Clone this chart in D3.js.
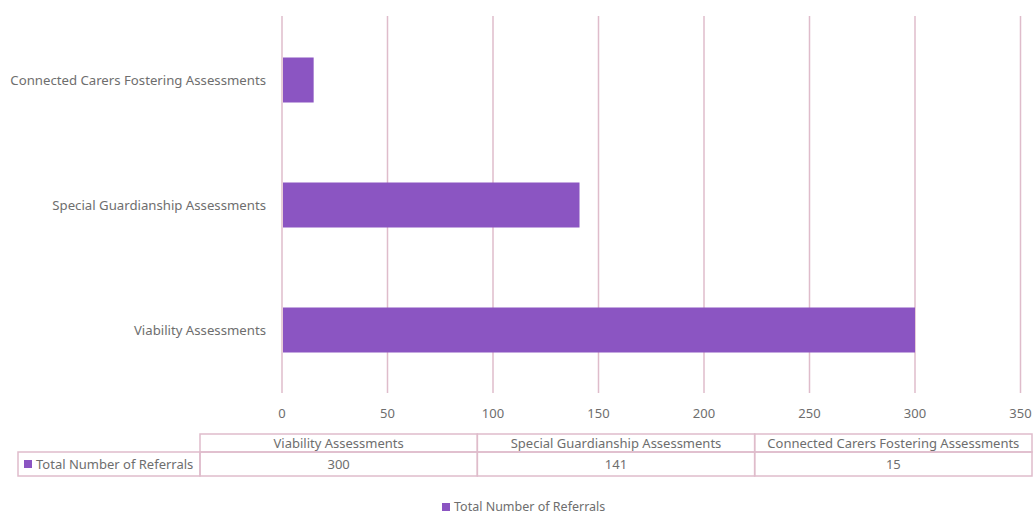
<!DOCTYPE html>
<html>
<head>
<meta charset="utf-8">
<script src="https://cdn.jsdelivr.net/npm/d3@7"></script>
<style>
  body { margin: 0; background: #fff; }
  text { font-family: 'Noto Sans', sans-serif; fill: #6e6e6e; }
</style>
</head>
<body>
<div id="chart"></div>
<script>
// data
const categories = ['Viability Assessments', 'Special Guardianship Assessments', 'Connected Carers Fostering Assessments']
const seriesName = 'Total Number of Referrals'
const values = [300, 141, 15]
const xTicks = [0, 50, 100, 150, 200, 250, 300, 350]

const width = 1033
const height = 515
const barColor = '#8b55c2'
const gridColor = '#dfbccb'

const svg = d3.select('#chart')
  .append('svg')
  .attr('width', width)
  .attr('height', height)

const x = d3.scaleLinear().domain([0, 350]).range([282, 1020.5])
// top category is drawn last in the list (Excel style)
const y = d3.scaleBand()
  .domain(categories.slice().reverse())
  .range([17.5, 392.5])
  .paddingInner(0.64)
  .paddingOuter(0.32)

// gridlines
svg.append('g')
  .selectAll('line')
  .data(xTicks)
  .join('line')
  .attr('x1', d => x(d))
  .attr('x2', d => x(d))
  .attr('y1', 16)
  .attr('y2', 393)
  .attr('stroke', gridColor)
  .attr('stroke-width', 1.5)

// bars
svg.append('g')
  .selectAll('rect')
  .data(categories)
  .join('rect')
  .attr('x', x(0) + 1)
  .attr('y', d => y(d))
  .attr('width', (d, i) => x(values[i]) - x(0) - 1)
  .attr('height', y.bandwidth())
  .attr('fill', barColor)

// category labels
svg.append('g')
  .selectAll('text')
  .data(categories)
  .join('text')
  .attr('x', 266)
  .attr('y', d => y(d) + y.bandwidth() / 2)
  .attr('dy', '0.35em')
  .attr('text-anchor', 'end')
  .attr('font-size', 13.2)
  .text(d => d)

// x tick labels
svg.append('g')
  .selectAll('text')
  .data(xTicks)
  .join('text')
  .attr('x', d => x(d))
  .attr('y', 418)
  .attr('text-anchor', 'middle')
  .attr('font-size', 13)
  .text(d => d)

// data table
const colX = d3.scaleBand().domain(categories).range([200, 1032])
const tableTop = 434
const rowH = 18
const row2H = 24

const table = svg.append('g')
table.selectAll('rect.head')
  .data(categories)
  .join('rect')
  .attr('class', 'head')
  .attr('x', d => colX(d))
  .attr('y', tableTop)
  .attr('width', colX.bandwidth())
  .attr('height', rowH)
  .attr('fill', 'none')
  .attr('stroke', gridColor)
  .attr('stroke-width', 1.5)

table.selectAll('text.head')
  .data(categories)
  .join('text')
  .attr('class', 'head')
  .attr('x', d => colX(d) + colX.bandwidth() / 2)
  .attr('y', tableTop + rowH / 2 + 0.5)
  .attr('dy', '0.35em')
  .attr('text-anchor', 'middle')
  .attr('font-size', 13)
  .text(d => d)

table.append('rect')
  .attr('x', 18)
  .attr('y', tableTop + rowH)
  .attr('width', 182)
  .attr('height', row2H)
  .attr('fill', 'none')
  .attr('stroke', gridColor)
  .attr('stroke-width', 1.5)

table.selectAll('rect.val')
  .data(categories)
  .join('rect')
  .attr('class', 'val')
  .attr('x', d => colX(d))
  .attr('y', tableTop + rowH)
  .attr('width', colX.bandwidth())
  .attr('height', row2H)
  .attr('fill', 'none')
  .attr('stroke', gridColor)
  .attr('stroke-width', 1.5)

table.selectAll('text.val')
  .data(categories)
  .join('text')
  .attr('class', 'val')
  .attr('x', d => colX(d) + colX.bandwidth() / 2)
  .attr('y', tableTop + rowH + row2H / 2)
  .attr('dy', '0.35em')
  .attr('text-anchor', 'middle')
  .attr('font-size', 13)
  .text((d, i) => values[i])

table.append('rect')
  .attr('x', 24)
  .attr('y', tableTop + rowH + row2H / 2 - 4)
  .attr('width', 8)
  .attr('height', 8)
  .attr('fill', barColor)

table.append('text')
  .attr('x', 36)
  .attr('y', tableTop + rowH + row2H / 2)
  .attr('dy', '0.35em')
  .attr('font-size', 13)
  .text(seriesName)

// legend
const legend = svg.append('g')
legend.append('rect')
  .attr('x', 442)
  .attr('y', 503)
  .attr('width', 8)
  .attr('height', 8)
  .attr('fill', barColor)
legend.append('text')
  .attr('x', 454)
  .attr('y', 507)
  .attr('dy', '0.35em')
  .attr('font-size', 12.5)
  .text(seriesName)
</script>
</body>
</html>
